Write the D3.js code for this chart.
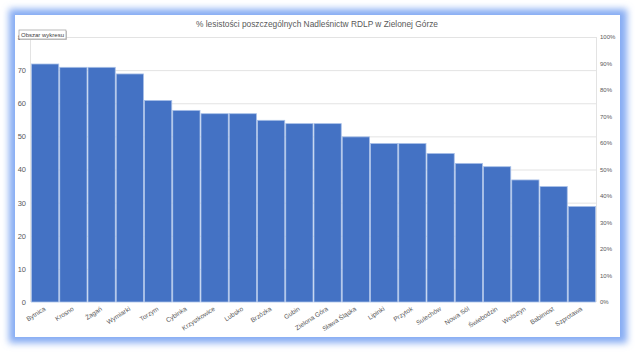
<!DOCTYPE html>
<html>
<head>
<meta charset="utf-8">
<script src="https://cdn.jsdelivr.net/npm/d3@7"></script>
<style>
  body { margin: 0; background: white; }
  text { font-family: "Liberation Sans", Arial, sans-serif; }
</style>
</head>
<body>
<script>
// data
const names = ["Bytnica", "Krosno", "Żagań", "Wymiarki", "Torzym", "Cybinka", "Krzystkowice", "Lubsko",
    "Brzózka", "Gubin", "Zielona Góra", "Sława Śląska", "Lipinki", "Przytok", "Sulechów", "Nowa Sól",
    "Świebodzin", "Wolsztyn", "Babimost", "Szprotawa"];
const forestShare = [72, 71, 71, 69, 61, 58, 57, 57, 55, 54, 54, 50, 48, 48, 45, 42, 41, 37, 35, 29];
const leftTicks = [0, 10, 20, 30, 40, 50, 60, 70, 80];
const rightTicks = [0, 0.1, 0.2, 0.3, 0.4, 0.5, 0.6, 0.7, 0.8, 0.9, 1];
const title = "% lesistości poszczególnych Nadleśnictw RDLP w Zielonej Górze";

const W = 635, H = 352;
const svg = d3.select("body").append("svg")
    .attr("width", W)
    .attr("height", H);

// blue glow round the chart box
const defs = svg.append("defs");
defs.append("filter").attr("id", "glow")
    .attr("x", -0.1).attr("y", -0.1).attr("width", 1.2).attr("height", 1.2)
    .append("feGaussianBlur").attr("stdDeviation", 3.5);

svg.append("rect")
    .attr("x", 9).attr("y", 9).attr("width", 618).attr("height", 334)
    .attr("fill", "#86acf3")
    .attr("filter", "url(#glow)");
svg.append("rect")
    .attr("x", 15).attr("y", 15).attr("width", 605).attr("height", 322)
    .attr("fill", "white");

const plotL = 31, plotR = 596, plotT = 37, plotB = 302;

const x = d3.scaleBand().domain(names).range([plotL, plotR]).padding(0);
const y = d3.scaleLinear().domain([0, 80]).range([plotB, plotT]);
const y2 = d3.scaleLinear().domain([0, 1]).range([plotB, plotT]);

// gridlines
svg.append("g")
    .selectAll("line")
    .data(leftTicks.slice(1))
    .join("line")
    .attr("x1", plotL).attr("x2", plotR)
    .attr("y1", d => y(d) + 0.5).attr("y2", d => y(d) + 0.5)
    .attr("stroke", "#e3e3e3");

// side lines
svg.append("line").attr("x1", plotL - 0.5).attr("x2", plotL - 0.5).attr("y1", plotT).attr("y2", plotB)
    .attr("stroke", "#e3e3e3");
svg.append("line").attr("x1", plotR + 0.5).attr("x2", plotR + 0.5).attr("y1", plotT).attr("y2", plotB)
    .attr("stroke", "#e3e3e3");

// bars
svg.append("g")
    .selectAll("rect")
    .data(forestShare)
    .join("rect")
    .attr("x", (d, i) => x(names[i]) + 0.5)
    .attr("y", d => y(d) + 0.5)
    .attr("width", x.bandwidth() - 1)
    .attr("height", d => plotB - y(d) - 0.5)
    .attr("fill", "#4472c4")
    .attr("stroke", "#a9c0e8")
    .attr("stroke-width", 0.8);

// left axis
const yAxis = svg.append("g")
    .attr("transform", `translate(${plotL - 5},0)`)
    .call(d3.axisLeft(y).tickValues(leftTicks).tickSize(0).tickPadding(0));
yAxis.select(".domain").remove();
yAxis.selectAll("text").attr("fill", "#595959").style("font-size", "7.5px");

// right axis
const y2Axis = svg.append("g")
    .attr("transform", `translate(${plotR + 4},0)`)
    .call(d3.axisRight(y2).tickValues(rightTicks).tickFormat(d3.format(".0%")).tickSize(0).tickPadding(0));
y2Axis.select(".domain").remove();
y2Axis.selectAll("text").attr("fill", "#595959").style("font-size", "6px");

// category labels
svg.append("g")
    .selectAll("text")
    .data(names)
    .join("text")
    .attr("transform", d => `translate(${x(d) + x.bandwidth() / 2 + 1},${plotB + 8}) rotate(-33)`)
    .attr("text-anchor", "end")
    .attr("fill", "#595959")
    .style("font-size", "6.5px")
    .text(d => d);

// title
svg.append("text")
    .attr("x", 317).attr("y", 27)
    .attr("text-anchor", "middle")
    .attr("fill", "#595959")
    .style("font-size", "9.5px")
    .attr("textLength", 242)
    .attr("lengthAdjust", "spacingAndGlyphs")
    .text(title);

// "Obszar wykresu" tooltip
const tip = svg.append("g").attr("transform", "translate(19,30)");
tip.append("rect").attr("x", 1).attr("y", 1).attr("width", 47).attr("height", 9)
    .attr("fill", "#cfcfcf");
tip.append("rect").attr("width", 47).attr("height", 9)
    .attr("fill", "white").attr("stroke", "#8a8a8a").attr("stroke-width", 0.6);
tip.append("text").attr("x", 2).attr("y", 6.8)
    .attr("fill", "#404040")
    .style("font-size", "6px")
    .attr("textLength", 43)
    .attr("lengthAdjust", "spacingAndGlyphs")
    .text("Obszar wykresu");
</script>
</body>
</html>
